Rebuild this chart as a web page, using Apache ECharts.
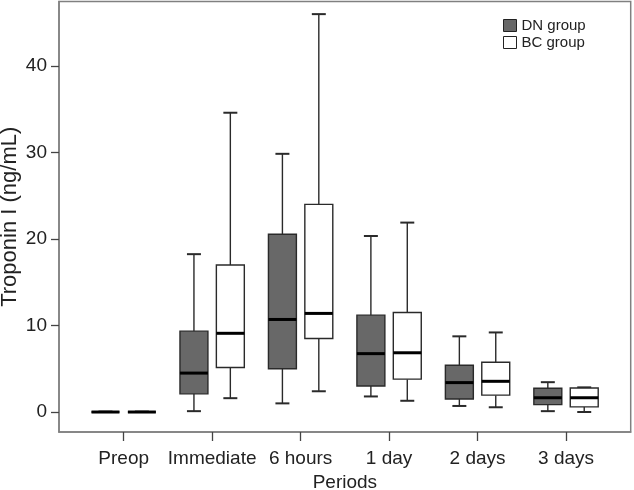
<!DOCTYPE html>
<html>
<head>
<meta charset="utf-8">
<script src="https://cdn.jsdelivr.net/npm/echarts@6/dist/echarts.min.js"></script>
<style>
html,body{margin:0;padding:0;background:#fff;}
#chart{width:634px;height:490px;}
</style>
</head>
<body>
<div id="chart"></div>
<script>
// Categories and tick labels
var categories = ['Preop', 'Immediate', '6 hours', '1 day', '2 days', '3 days'];
var yTickValues = [0, 10, 20, 30, 40];
var seriesNames = ['DN group', 'BC group'];

// DN group five-number summaries (ng/mL)
var dnMin = [0.0, 0.1, 1.0, 1.8, 0.7, 0.1];
var dnQ1  = [0.0, 2.1, 5.0, 3.0, 1.5, 0.85];
var dnMed = [0.0, 4.5, 10.7, 6.75, 3.4, 1.65];
var dnQ3  = [0.0, 9.35, 20.55, 11.2, 5.4, 2.75];
var dnMax = [0.05, 18.25, 29.85, 20.35, 8.75, 3.45];

// BC group five-number summaries (ng/mL)
var bcMin = [0.0, 1.6, 2.4, 1.3, 0.55, 0.0];
var bcQ1  = [0.0, 5.15, 8.5, 3.8, 1.95, 0.6];
var bcMed = [0.0, 9.1, 11.4, 6.85, 3.55, 1.65];
var bcQ3  = [0.0, 17.0, 24.0, 11.5, 5.75, 2.78];
var bcMax = [0.05, 34.6, 46.0, 21.9, 9.2, 2.85];

function buildData(mn, q1, md, q3, mx) {
  return categories.map(function (c, i) {
    return [i, mn[i], q1[i], md[i], q3[i], mx[i]];
  });
}

var BOX_HALF = 0.158;
var CAP_HALF = 0.079;
var OFFSET = 0.2057;
var LINE_COLOR = '#2a2a2a';

function makeRender(offset, fill) {
  return function (params, api) {
    var x = api.value(0) + offset;
    var mn = api.value(1), q1 = api.value(2), md = api.value(3), q3 = api.value(4), mx = api.value(5);
    var halfW = api.size([BOX_HALF, 0])[0];
    var capW = api.size([CAP_HALF, 0])[0];
    var pMin = api.coord([x, mn]);
    var pQ1 = api.coord([x, q1]);
    var pMed = api.coord([x, md]);
    var pQ3 = api.coord([x, q3]);
    var pMax = api.coord([x, mx]);
    var cx = pMed[0];
    var lineStyle = { stroke: LINE_COLOR, lineWidth: 1.4, fill: null };
    var children = [
      { type: 'line', shape: { x1: cx, y1: pMax[1], x2: cx, y2: pQ3[1] }, style: lineStyle },
      { type: 'line', shape: { x1: cx, y1: pQ1[1], x2: cx, y2: pMin[1] }, style: lineStyle },
      { type: 'line', shape: { x1: cx - capW, y1: pMax[1], x2: cx + capW, y2: pMax[1] }, style: { stroke: LINE_COLOR, lineWidth: 2 } },
      { type: 'line', shape: { x1: cx - capW, y1: pMin[1], x2: cx + capW, y2: pMin[1] }, style: { stroke: LINE_COLOR, lineWidth: 2 } },
      { type: 'rect', shape: { x: cx - halfW, y: pQ3[1], width: halfW * 2, height: pQ1[1] - pQ3[1] },
        style: { fill: fill, stroke: LINE_COLOR, lineWidth: 1.4 } },
      { type: 'line', shape: { x1: cx - halfW, y1: pMed[1], x2: cx + halfW, y2: pMed[1] }, style: { stroke: '#000', lineWidth: 3 } }
    ];
    return { type: 'group', children: children };
  };
}

var chart = echarts.init(document.getElementById('chart'), null, { renderer: 'canvas' });

var FONT = 'Liberation Sans';

chart.setOption({
  animation: false,
  backgroundColor: '#fff',
  textStyle: { fontFamily: FONT },
  grid: {
    left: 59, right: 3.3, top: 1.5, bottom: 58,
    containLabel: false,
    outerBoundsMode: 'none',
    show: true, borderColor: '#808080', borderWidth: 1.5, backgroundColor: 'transparent'
  },
  legend: {
    orient: 'vertical',
    left: 503, top: 18,
    padding: 0,
    itemGap: 2,
    itemWidth: 13, itemHeight: 12,
    textStyle: { fontFamily: FONT, fontSize: 15, color: '#222' },
    data: [
      { name: seriesNames[0], icon: 'rect', itemStyle: { color: '#686868', borderColor: '#222', borderWidth: 1 } },
      { name: seriesNames[1], icon: 'rect', itemStyle: { color: '#ffffff', borderColor: '#222', borderWidth: 1 } }
    ]
  },
  xAxis: {
    type: 'value',
    min: -0.731, max: 5.731,
    name: 'Periods',
    nameLocation: 'middle',
    nameGap: 41,
    nameMoveOverlap: false,
    nameTextStyle: { fontFamily: FONT, fontSize: 19, color: '#222' },
    splitLine: { show: false },
    axisLine: { show: true, onZero: false, lineStyle: { color: '#808080', width: 1.5 } },
    axisTick: { show: true, length: 9, customValues: [0, 1, 2, 3, 4, 5], lineStyle: { color: '#444', width: 1.3 } },
    axisLabel: {
      customValues: [0, 1, 2, 3, 4, 5],
      margin: 17,
      fontFamily: FONT, fontSize: 19, color: '#222',
      formatter: function (v) { return categories[Math.round(v)]; }
    }
  },
  yAxis: {
    type: 'value',
    min: -2.31, max: 47.46,
    name: 'Troponin I (ng/mL)',
    nameLocation: 'middle',
    nameGap: 38,
    nameMoveOverlap: false,
    nameTextStyle: { fontFamily: FONT, fontSize: 22, color: '#222' },
    splitLine: { show: false },
    axisLine: { show: true, onZero: false, lineStyle: { color: '#808080', width: 1.5 } },
    axisTick: { show: true, length: 8, customValues: yTickValues, lineStyle: { color: '#444', width: 1.3 } },
    axisLabel: {
      customValues: yTickValues,
      margin: 12,
      fontFamily: FONT, fontSize: 19, color: '#222'
    }
  },
  series: [
    {
      name: seriesNames[0],
      type: 'custom',
      itemStyle: { color: '#686868' },
      renderItem: makeRender(-OFFSET, '#686868'),
      encode: { x: 0, y: [1, 2, 3, 4, 5] },
      data: buildData(dnMin, dnQ1, dnMed, dnQ3, dnMax)
    },
    {
      name: seriesNames[1],
      type: 'custom',
      itemStyle: { color: '#ffffff' },
      renderItem: makeRender(OFFSET, '#ffffff'),
      encode: { x: 0, y: [1, 2, 3, 4, 5] },
      data: buildData(bcMin, bcQ1, bcMed, bcQ3, bcMax)
    }
  ]
});
</script>
</body>
</html>
